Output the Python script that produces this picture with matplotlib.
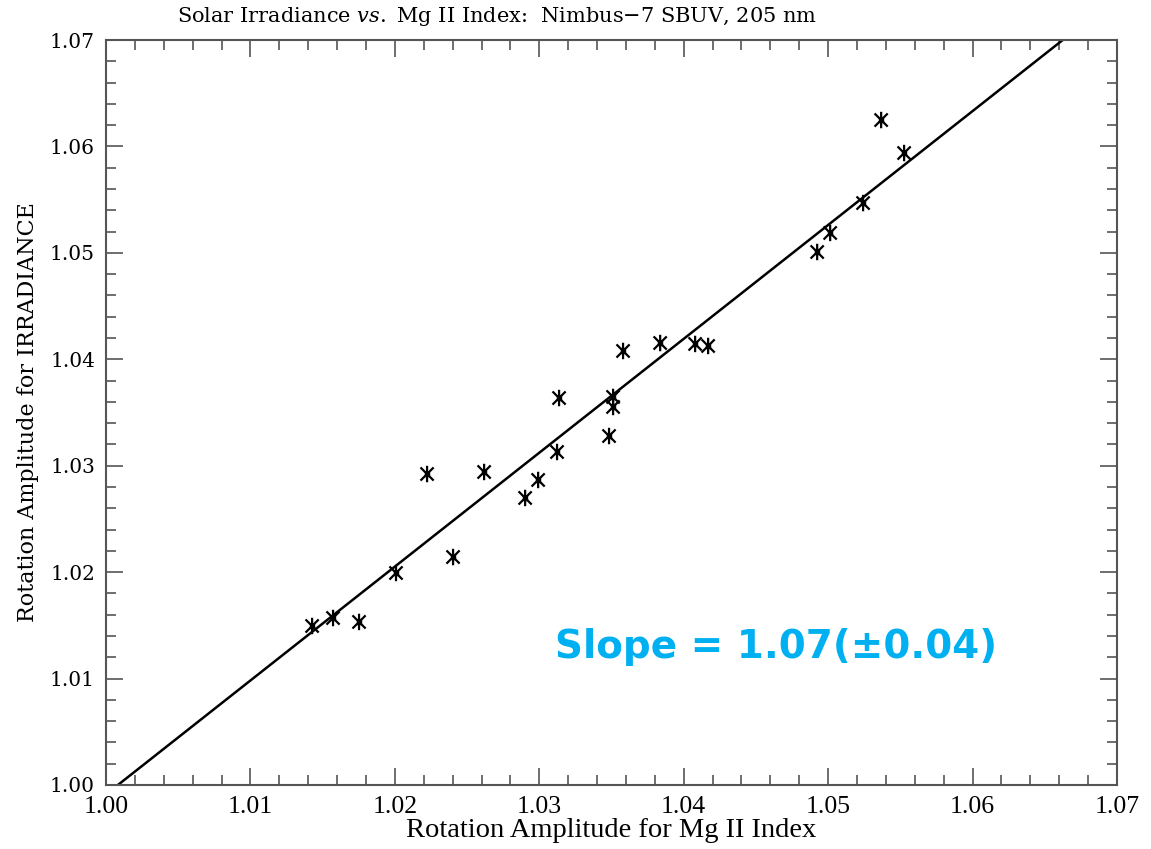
import numpy as np
import matplotlib.pyplot as plt
from matplotlib.path import Path
from matplotlib.ticker import MultipleLocator

plt.switch_backend('agg')
plt.rcParams['mathtext.fontset'] = 'dejavuserif'

# rotation amplitudes, Mg II index (x) vs 205 nm irradiance (y)
mg_amp = [1.01427, 1.01572, 1.01752, 1.02008, 1.02223, 1.02403, 1.02618,
          1.02902, 1.02992, 1.03123, 1.03137, 1.03483, 1.03511, 1.03511,
          1.03580, 1.03837, 1.04079, 1.04169, 1.04924, 1.05014, 1.05242,
          1.05367, 1.05526]
irr_amp = [1.01494, 1.01569, 1.01532, 1.01992, 1.02922, 1.02142, 1.02941,
           1.02697, 1.02866, 1.03129, 1.03636, 1.03279, 1.03552, 1.03646,
           1.04078, 1.04153, 1.04144, 1.04125, 1.05008, 1.05187, 1.05468,
           1.06248, 1.05938]

slope = 1.07
slope_err = 0.04
x_mid, y_mid = 1.034, 1.0355   # point the fit line goes through

ticks = [1.00, 1.01, 1.02, 1.03, 1.04, 1.05, 1.06, 1.07]

# IDL-style asterisk: vertical bar plus an X
asterisk = Path(
    [(0, -1), (0, 1), (-0.8, -0.8), (0.8, 0.8), (-0.8, 0.8), (0.8, -0.8)],
    [Path.MOVETO, Path.LINETO, Path.MOVETO, Path.LINETO, Path.MOVETO, Path.LINETO])

AX_COLOR = '#555555'


def main():
    fig = plt.figure(figsize=(11.51, 8.49), dpi=100)
    ax = fig.add_axes([106 / 1151, 1 - 785 / 849, 1011 / 1151, 745 / 849])

    ax.set_xlim(1.00, 1.07)
    ax.set_ylim(1.00, 1.07)

    xs = np.array([1.00, 1.07])
    ax.plot(xs, y_mid + slope * (xs - x_mid), color='black', lw=1.8)

    ax.scatter(mg_amp, irr_amp, marker=asterisk, s=140, facecolors='none',
               edgecolors='black', linewidths=1.6, zorder=3)
    ax.scatter(mg_amp, irr_amp, marker='s', s=7, color='black', zorder=4)

    ax.set_xticks(ticks)
    ax.set_yticks(ticks)
    ax.xaxis.set_minor_locator(MultipleLocator(0.002))
    ax.yaxis.set_minor_locator(MultipleLocator(0.002))
    ax.set_xticklabels([f'{t:.2f}' for t in ticks],
                       fontfamily='Liberation Serif', fontsize=18.5)
    ax.set_yticklabels([f'{t:.2f}' for t in ticks],
                       fontfamily='DejaVu Serif', fontsize=14.5)
    ax.tick_params(which='both', direction='in', top=True, right=True,
                   color=AX_COLOR, width=1.2)
    ax.tick_params(which='major', length=12, pad=8)
    ax.tick_params(which='minor', length=7)
    for sp in ax.spines.values():
        sp.set_color(AX_COLOR)
        sp.set_linewidth(1.5)

    ax.set_xlabel('Rotation Amplitude for Mg II Index',
                  fontfamily='Liberation Serif', fontsize=20.5, labelpad=0)
    ax.set_ylabel('Rotation Amplitude for IRRADIANCE',
                  fontfamily='DejaVu Serif', fontsize=16, labelpad=8)

    fig.text(0.5 * (178 + 817) / 1151, 1 - 17 / 849,
             r'Solar Irradiance $\it{vs.}$ Mg II Index:  Nimbus$-$7 SBUV, 205 nm',
             ha='center', va='center', fontfamily='DejaVu Serif', fontsize=15)

    ax.text(1.0311, 1.0130, f'Slope = {slope:.2f}(\u00b1{slope_err:.2f})',
            color='#00B0F0', fontsize=28, fontweight='bold',
            fontfamily='DejaVu Sans', ha='left', va='center')

    fig.savefig('out.png', dpi=100)


if __name__ == '__main__':
    main()
